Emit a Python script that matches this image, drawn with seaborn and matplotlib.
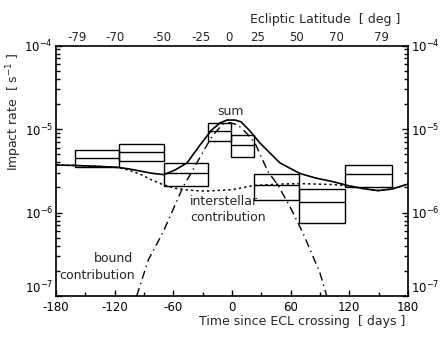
import numpy as np
import pandas as pd
import matplotlib
matplotlib.use("Agg")
import matplotlib.pyplot as plt
import seaborn as sns
from matplotlib.ticker import LogLocator, FixedLocator, NullFormatter

# ---- measured boxes (days, impact rate s^-1) ----
box_start = [-161, -116, -70, -24.5, -1.5, 22, 69, 116]
box_end = [-116, -70, -24.5, -1.5, 22, 69, 116, 164]
box_low = [3.51e-6, 4.14e-6, 2.07e-6, 7.24e-6, 4.58e-6, 1.41e-6, 7.55e-7, 2.04e-6]
box_mid = [4.53e-6, 5.27e-6, 2.94e-6, 9.46e-6, 6.43e-6, 2.13e-6, 1.35e-6, 2.89e-6]
box_high = [5.61e-6, 6.56e-6, 3.88e-6, 1.17e-5, 8.36e-6, 2.87e-6, 1.91e-6, 3.71e-6]

# ---- model curves ----
inter_days = [-180, -161.6, -135, -115.6, -105, -94.1, -82, -69.5, -58, -46, -35, -24.5,
              1, 21.5, 49, 69.5, 103.3, 120.7, 137, 149.3, 163.6, 180]
inter_rate = [3.71e-6, 3.66e-6, 3.56e-6, 3.46e-6, 3.2e-6, 2.89e-6, 2.45e-6, 2.13e-6,
              1.95e-6, 1.86e-6, 1.82e-6, 1.81e-6, 1.88e-6, 2.10e-6, 2.19e-6, 2.22e-6,
              2.16e-6, 2.07e-6, 1.91e-6, 1.83e-6, 1.91e-6, 2.19e-6]

bound_days = [-97.5, -85.6, -70.3, -50.1, -38.9, -29.7, -20, -9.2, -2, 6, 15, 23.5,
              36.8, 47, 59.3, 72.6, 81.5, 90, 96.9]
bound_rate = [1.0e-7, 2.70e-7, 5.89e-7, 2.02e-6, 3.41e-6, 5.31e-6, 8.3e-6, 1.15e-5,
              1.19e-5, 1.12e-5, 8.89e-6, 6.79e-6, 3.08e-6, 2.13e-6, 1.17e-6, 5.68e-7,
              3.24e-7, 1.88e-7, 1.0e-7]

sum_days = [-180, -161.6, -135, -115.6, -105, -94.1, -82, -69.5, -58.3, -46, -32.7, -20.8,
            -12.3, -5.1, 3.1, 9.2, 18.4, 28.6, 49.1, 69.5, 86, 103.3, 120.7, 137, 149.3,
            163.6, 180]
sum_rate = [3.71e-6, 3.66e-6, 3.56e-6, 3.46e-6, 3.32e-6, 3.14e-6, 2.95e-6, 2.84e-6,
            3.23e-6, 3.92e-6, 6.43e-6, 9.73e-6, 1.18e-5, 1.28e-5, 1.28e-5, 1.22e-5,
            9.46e-6, 6.79e-6, 3.92e-6, 2.93e-6, 2.58e-6, 2.34e-6, 2.07e-6, 1.91e-6,
            1.83e-6, 1.91e-6, 2.19e-6]

# ---- axis ticks ----
x_ticks = [-180, -120, -60, 0, 60, 120, 180]
lat_labels = ["-79", "-70", "-50", "-25", "0", "25", "50", "70", "79"]
lat_pos = [-158, -119.6, -71.3, -32, -2.8, 25.9, 66.2, 106.3, 153]

sns.set_style("ticks")
plt.rcParams["font.family"] = ["DejaVu Sans"]
plt.rcParams["mathtext.default"] = "regular"

fig = plt.figure(figsize=(4.47, 3.38), dpi=100)
ax = fig.add_axes([56 / 447, 1 - 296 / 338, 352 / 447, 250.5 / 338])

# boxes
widths = [e - s for s, e in zip(box_start, box_end)]
heights = [h - l for l, h in zip(box_low, box_high)]
ax.bar(box_start, heights, width=widths, bottom=box_low, align="edge",
       fill=False, edgecolor="black", linewidth=1.0, zorder=3)
ax.hlines(box_mid, box_start, box_end, color="black", linewidth=1.0, zorder=3)

# curves
sns.lineplot(x=inter_days, y=inter_rate, ax=ax, color="black", linestyle=(0, (1.5, 2)),
             linewidth=1.1, sort=False, estimator=None)
sns.lineplot(x=bound_days, y=bound_rate, ax=ax, color="black",
             linestyle=(0, (6, 3, 1, 3)), linewidth=1.0, sort=False, estimator=None)
sns.lineplot(x=sum_days, y=sum_rate, ax=ax, color="black", linestyle="-",
             linewidth=1.2, sort=False, estimator=None)

ax.set_yscale("log")
ax.set_xlim(-180, 180)
ax.set_ylim(1e-7, 1e-4)
ax.set_xlabel("")
ax.set_ylabel("")

ax.xaxis.set_major_locator(FixedLocator(x_ticks))
ax.xaxis.set_minor_locator(FixedLocator(list(range(-150, 180, 60))))
ax.set_xticklabels([str(t) for t in x_ticks])
ax.yaxis.set_minor_locator(LogLocator(base=10, subs=np.arange(2, 10), numticks=20))
ax.yaxis.set_minor_formatter(NullFormatter())
ax.set_yticks([1e-7, 1e-6, 1e-5, 1e-4])
ax.set_yticklabels(["$10^{-7}$", "$10^{-6}$", "$10^{-5}$", "$10^{-4}$"])

ax.tick_params(axis="both", which="both", direction="in", top=True, right=True,
               labelsize=8.5, colors="black", width=1.0)
ax.tick_params(axis="both", which="major", length=4)
ax.tick_params(axis="both", which="minor", length=3)
ax.tick_params(axis="x", pad=3.5)
ax.tick_params(axis="y", labelright=True, pad=2)
for lab in ax.get_yticklabels():
    if lab.get_text() == "$10^{-7}$":
        lab.set_va("bottom")
for sp in ax.spines.values():
    sp.set_linewidth(1.2)
    sp.set_color("black")

# top latitude axis
ax2 = ax.twiny()
ax2.set_xlim(-180, 180)
ax2.set_xticks(lat_pos)
ax2.set_xticklabels(lat_labels)
ax2.tick_params(axis="x", length=0, pad=1, labelsize=8.5)
for sp in ax2.spines.values():
    sp.set_visible(False)

# annotations
ax.text(-1, 1.64e-5, "sum", ha="center", va="center", fontsize=9)
ax.text(-43, 1.34e-6, "interstellar", ha="left", va="center", fontsize=9)
ax.text(-43, 8.6e-7, "contribution", ha="left", va="center", fontsize=9)
ax.text(-101, 2.85e-7, "bound", ha="right", va="center", fontsize=9)
ax.text(-99, 1.78e-7, "contribution", ha="right", va="center", fontsize=9)

fig.text(14 / 447, 1 - 112 / 338, "Impact rate  [ s$^{-1}$ ]", rotation=90,
         ha="center", va="center", fontsize=9)
fig.text(405 / 447, 1 - 322 / 338, "Time since ECL crossing  [ days ]",
         ha="right", va="center", fontsize=9)
fig.text(400 / 447, 1 - 20 / 338, "Ecliptic Latitude  [ deg ]",
         ha="right", va="center", fontsize=9)

fig.savefig("out.png", dpi=100)
